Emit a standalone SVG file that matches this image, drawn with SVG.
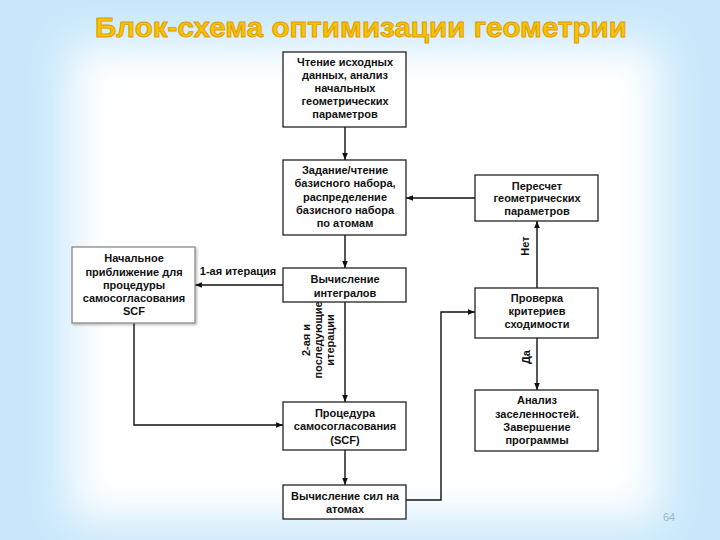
<svg xmlns="http://www.w3.org/2000/svg" width="720" height="540" viewBox="0 0 720 540">
<defs>
<filter id="soft" x="-20%" y="-20%" width="140%" height="140%"><feGaussianBlur stdDeviation="22"/></filter>
<filter id="sh" x="-10%" y="-10%" width="130%" height="130%"><feDropShadow dx="1.5" dy="1.5" stdDeviation="1" flood-color="#000" flood-opacity="0.25"/></filter>
<marker id="arr" viewBox="0 0 10 10" refX="10" refY="5" markerWidth="7" markerHeight="7" markerUnits="userSpaceOnUse" orient="auto"><path d="M0,1 L10,5 L0,9 z" fill="#111"/></marker>
</defs>
<style>
.box{fill:#fff;stroke:#222;stroke-width:1.3}
.gbox{fill:#fff;stroke:#8a8a8a;stroke-width:1.3}
.t{font-family:"Liberation Sans",Arial,sans-serif;font-weight:bold;font-size:11px;fill:#111;text-anchor:middle}
.c{fill:none;stroke:#111;stroke-width:1.4}
</style>
<rect x="0" y="0" width="720" height="540" fill="#c9e8fb"/>
<rect x="70" y="45" width="590" height="475" fill="#fff" filter="url(#soft)"/>
<text x="361" y="37" font-family="'Liberation Sans',Arial,sans-serif" font-weight="bold" font-size="28" fill="#f6c400" stroke="#e39a00" stroke-width="0.9" text-anchor="middle" textLength="532" lengthAdjust="spacingAndGlyphs">Блок-схема оптимизации геометрии</text>
<g id="connectors">
<line class="c" x1="345" y1="127" x2="345" y2="160" marker-end="url(#arr)"/>
<line class="c" x1="345" y1="235" x2="345" y2="268" marker-end="url(#arr)"/>
<line class="c" x1="283" y1="285" x2="195" y2="285" marker-end="url(#arr)"/>
<line class="c" x1="345" y1="302" x2="345" y2="402" marker-end="url(#arr)"/>
<polyline class="c" points="134,323 134,425 283,425" marker-end="url(#arr)"/>
<line class="c" x1="345" y1="450" x2="345" y2="485" marker-end="url(#arr)"/>
<polyline class="c" points="406,500 441,500 441,312 475,312" marker-end="url(#arr)"/>
<line class="c" x1="537" y1="288" x2="537" y2="221" marker-end="url(#arr)"/>
<line class="c" x1="475" y1="198" x2="406" y2="198" marker-end="url(#arr)"/>
<line class="c" x1="537" y1="338" x2="537" y2="390" marker-end="url(#arr)"/>
<text class="t" x="238" y="275">1-ая итерация</text>
<g transform="translate(318,340) rotate(-90)">
<text class="t" x="0" y="-8">2-ая и</text>
<text class="t" x="0" y="4">последующие</text>
<text class="t" x="0" y="16">итерации</text>
</g>
<text class="t" transform="translate(529,246) rotate(-90)">Нет</text>
<text class="t" transform="translate(530,357) rotate(-90)">Да</text>
</g>
<g id="n1"><rect class="box" x="283" y="52" width="123" height="75"/>
<text class="t" x="345" y="66">Чтение исходных</text><text class="t" x="345" y="79">данных, анализ</text><text class="t" x="345" y="92">начальных</text><text class="t" x="345" y="105">геометрических</text><text class="t" x="345" y="118">параметров</text></g>
<g id="n2"><rect class="box" x="283" y="160" width="123" height="75"/>
<text class="t" x="345" y="174">Задание/чтение</text><text class="t" x="345" y="187">базисного набора,</text><text class="t" x="345" y="201">распределение</text><text class="t" x="345" y="214">базисного набора</text><text class="t" x="345" y="227">по атомам</text></g>
<g id="n3"><rect class="box" x="283" y="268" width="123" height="34"/>
<text class="t" x="345" y="283">Вычисление</text><text class="t" x="345" y="297">интегралов</text></g>
<g id="n4"><rect class="gbox" x="72" y="247" width="123" height="76" filter="url(#sh)"/>
<text class="t" x="134" y="262">Начальное</text><text class="t" x="134" y="276">приближение для</text><text class="t" x="134" y="289">процедуры</text><text class="t" x="134" y="302">самосогласования</text><text class="t" x="134" y="315">SCF</text></g>
<g id="n5"><rect class="box" x="283" y="402" width="123" height="48"/>
<text class="t" x="345" y="417">Процедура</text><text class="t" x="345" y="430">самосогласования</text><text class="t" x="345" y="444">(SCF)</text></g>
<g id="n6"><rect class="box" x="283" y="485" width="123" height="34"/>
<text class="t" x="345" y="500">Вычисление сил на</text><text class="t" x="345" y="513">атомах</text></g>
<g id="n7"><rect class="box" x="475" y="175" width="123" height="46"/>
<text class="t" x="537" y="190">Пересчет</text><text class="t" x="537" y="202">геометрических</text><text class="t" x="537" y="215">параметров</text></g>
<g id="n8"><rect class="box" x="475" y="288" width="123" height="50"/>
<text class="t" x="537" y="302">Проверка</text><text class="t" x="537" y="315">критериев</text><text class="t" x="537" y="328">сходимости</text></g>
<g id="n9"><rect class="box" x="475" y="390" width="123" height="61"/>
<text class="t" x="537" y="404">Анализ</text><text class="t" x="537" y="418">заселенностей.</text><text class="t" x="537" y="431">Завершение</text><text class="t" x="537" y="444">программы</text></g>
<text x="669" y="521" font-family="'Liberation Sans',Arial,sans-serif" font-size="11" fill="#9fb4c6" text-anchor="middle">64</text>
</svg>
